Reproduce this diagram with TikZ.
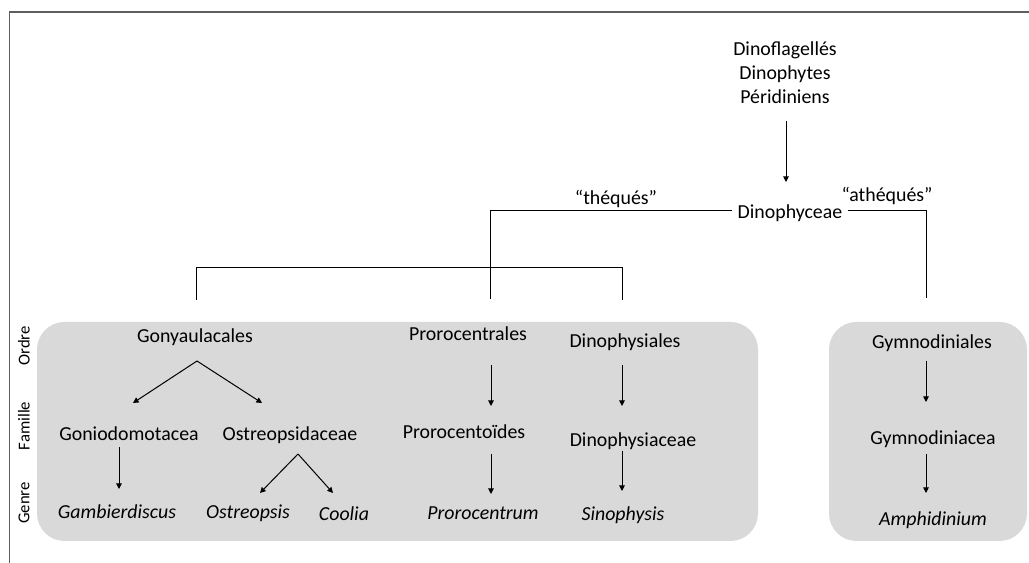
\documentclass[tikz,border=0pt]{standalone}
\usepackage{fontspec}
\setmainfont{Carlito}
\usetikzlibrary{arrows.meta}
\definecolor{boxgrey}{RGB}{217,217,217}
\definecolor{framegrey}{RGB}{95,95,95}
\tikzset{
  taxon/.style={font=\fontsize{11.3}{13.6}\selectfont, inner sep=0pt, text height=0.75em, text depth=0.25em, yshift=-0.04cm},
  genus/.style={font=\fontsize{11.3}{13.6}\selectfont\itshape, inner sep=0pt, text height=0.75em, text depth=0.25em, yshift=-0.04cm},
  rank/.style={font=\fontsize{9.5}{11}\selectfont, rotate=90, inner sep=0pt},
  link/.style={line width=0.02cm},
  arr/.style={line width=0.02cm, -{Triangle[length=3.2pt,width=3.2pt]}},
}
\begin{document}
\begin{tikzpicture}[x=0.02cm, y=-0.02cm]
            \useasboundingbox (0,0) rectangle (1029,563);
            
            % Frame lines
            \draw [framegrey, line width=0.04cm] (9.5,563) -- (9.5,12) -- (1029,12);%
            
            % Grey boxes
            \fill [boxgrey, rounded corners=0.55cm] (37,322) rectangle (758,541);%
            \fill [boxgrey, rounded corners=0.55cm] (829,322) rectangle (1027,541);%
            
            % Rank labels
            \node [rank] (ordre) at (24,346) {Ordre};%
            \node [rank] (famille) at (24,426) {Famille};%
            \node [rank] (genre) at (24,503) {Genre};%
            
            % Top of the tree
            \node [font=\fontsize{11.3}{13.6}\selectfont, inner sep=0pt, align=center] (dino) at (785,73) {Dinoflagellés\\Dinophytes\\Péridiniens};%
            \node [taxon] (dinophyceae) at (790,212) {Dinophyceae};%
            \node [taxon] (theques) at (616,198) {“théqués”};%
            \node [taxon] (atheques) at (887,195) {“athéqués”};%
            \coordinate (dinoA) at (786,121);%
            \coordinate (dinoB) at (786,182);%
            \draw [arr] (dinoA) -- (dinoB);%
            
            % Drawing branch theques
            \coordinate (thL) at (490,211);%
            \coordinate (thD) at (490,299);%
            \draw [link] ([xshift=-0.1cm]dinophyceae.west |- thL) -- (thL) -- (thD);%
            \coordinate (brL) at (196,268);%
            \coordinate (brR) at (622,268);%
            \coordinate (brLD) at (196,300);%
            \coordinate (brRD) at (622,300);%
            \draw [link] (brLD) -- (brL) -- (brR) -- (brRD);%
            
            % Drawing branch atheques
            \coordinate (athR) at (926,211);%
            \coordinate (athD) at (926,298);%
            \draw [link] ([xshift=0.1cm]dinophyceae.east |- athR) -- (athR) -- (athD);%
            
            % Gonyaulacales
            \node [taxon] (gony) at (195,336) {Gonyaulacales};%
            \node [taxon] (gonio) at (129,434) {Goniodomotacea};%
            \node [taxon] (ostreo) at (290,434) {Ostreopsidaceae};%
            \node [genus] (gamb) at (117,512) {Gambierdiscus};%
            \node [genus] (ostreopsis) at (248,512) {Ostreopsis};%
            \node [genus] (coolia) at (344,514) {Coolia};%
            \coordinate (gonyS) at (197,361);%
            \coordinate (gonyL) at (133,403);%
            \coordinate (gonyR) at (262,403);%
            \draw [arr] (gonyS) -- (gonyL);%
            \draw [arr] (gonyS) -- (gonyR);%
            \coordinate (gonioA) at (119,447);%
            \coordinate (gonioB) at (119,489);%
            \draw [arr] (gonioA) -- (gonioB);%
            \coordinate (ostreoS) at (298,454);%
            \coordinate (ostreoL) at (260,493);%
            \coordinate (ostreoR) at (333,493);%
            \draw [arr] (ostreoS) -- (ostreoL);%
            \draw [arr] (ostreoS) -- (ostreoR);%
            
            % Prorocentrales
            \node [taxon] (proro) at (468,334) {Prorocentrales};%
            \node [taxon] (prorofam) at (464,432) {Prorocentoïdes};%
            \node [genus] (prorocentrum) at (483,513) {Prorocentrum};%
            \coordinate (proroA) at (491,365);%
            \coordinate (proroB) at (491,406);%
            \draw [arr] (proroA) -- (proroB);%
            \coordinate (proroC) at (491,454);%
            \coordinate (proroD) at (491,494);%
            \draw [arr] (proroC) -- (proroD);%
            
            % Dinophysiales
            \node [taxon] (dphys) at (625,341) {Dinophysiales};%
            \node [taxon] (dphysfam) at (633,440) {Dinophysiaceae};%
            \node [genus] (sinophysis) at (623,514) {Sinophysis};%
            \coordinate (dphysA) at (622,365);%
            \coordinate (dphysB) at (622,406);%
            \draw [arr] (dphysA) -- (dphysB);%
            \coordinate (dphysC) at (622,451);%
            \coordinate (dphysD) at (622,491);%
            \draw [arr] (dphysC) -- (dphysD);%
            
            % Gymnodiniales
            \node [taxon] (gymno) at (932,342) {Gymnodiniales};%
            \node [taxon] (gymnofam) at (933,438) {Gymnodiniacea};%
            \node [genus] (amphi) at (933,519) {Amphidinium};%
            \coordinate (gymnoA) at (926,361);%
            \coordinate (gymnoB) at (926,402);%
            \draw [arr] (gymnoA) -- (gymnoB);%
            \coordinate (gymnoC) at (926,454);%
            \coordinate (gymnoD) at (926,493);%
            \draw [arr] (gymnoC) -- (gymnoD);%
        \end{tikzpicture}
\end{document}
